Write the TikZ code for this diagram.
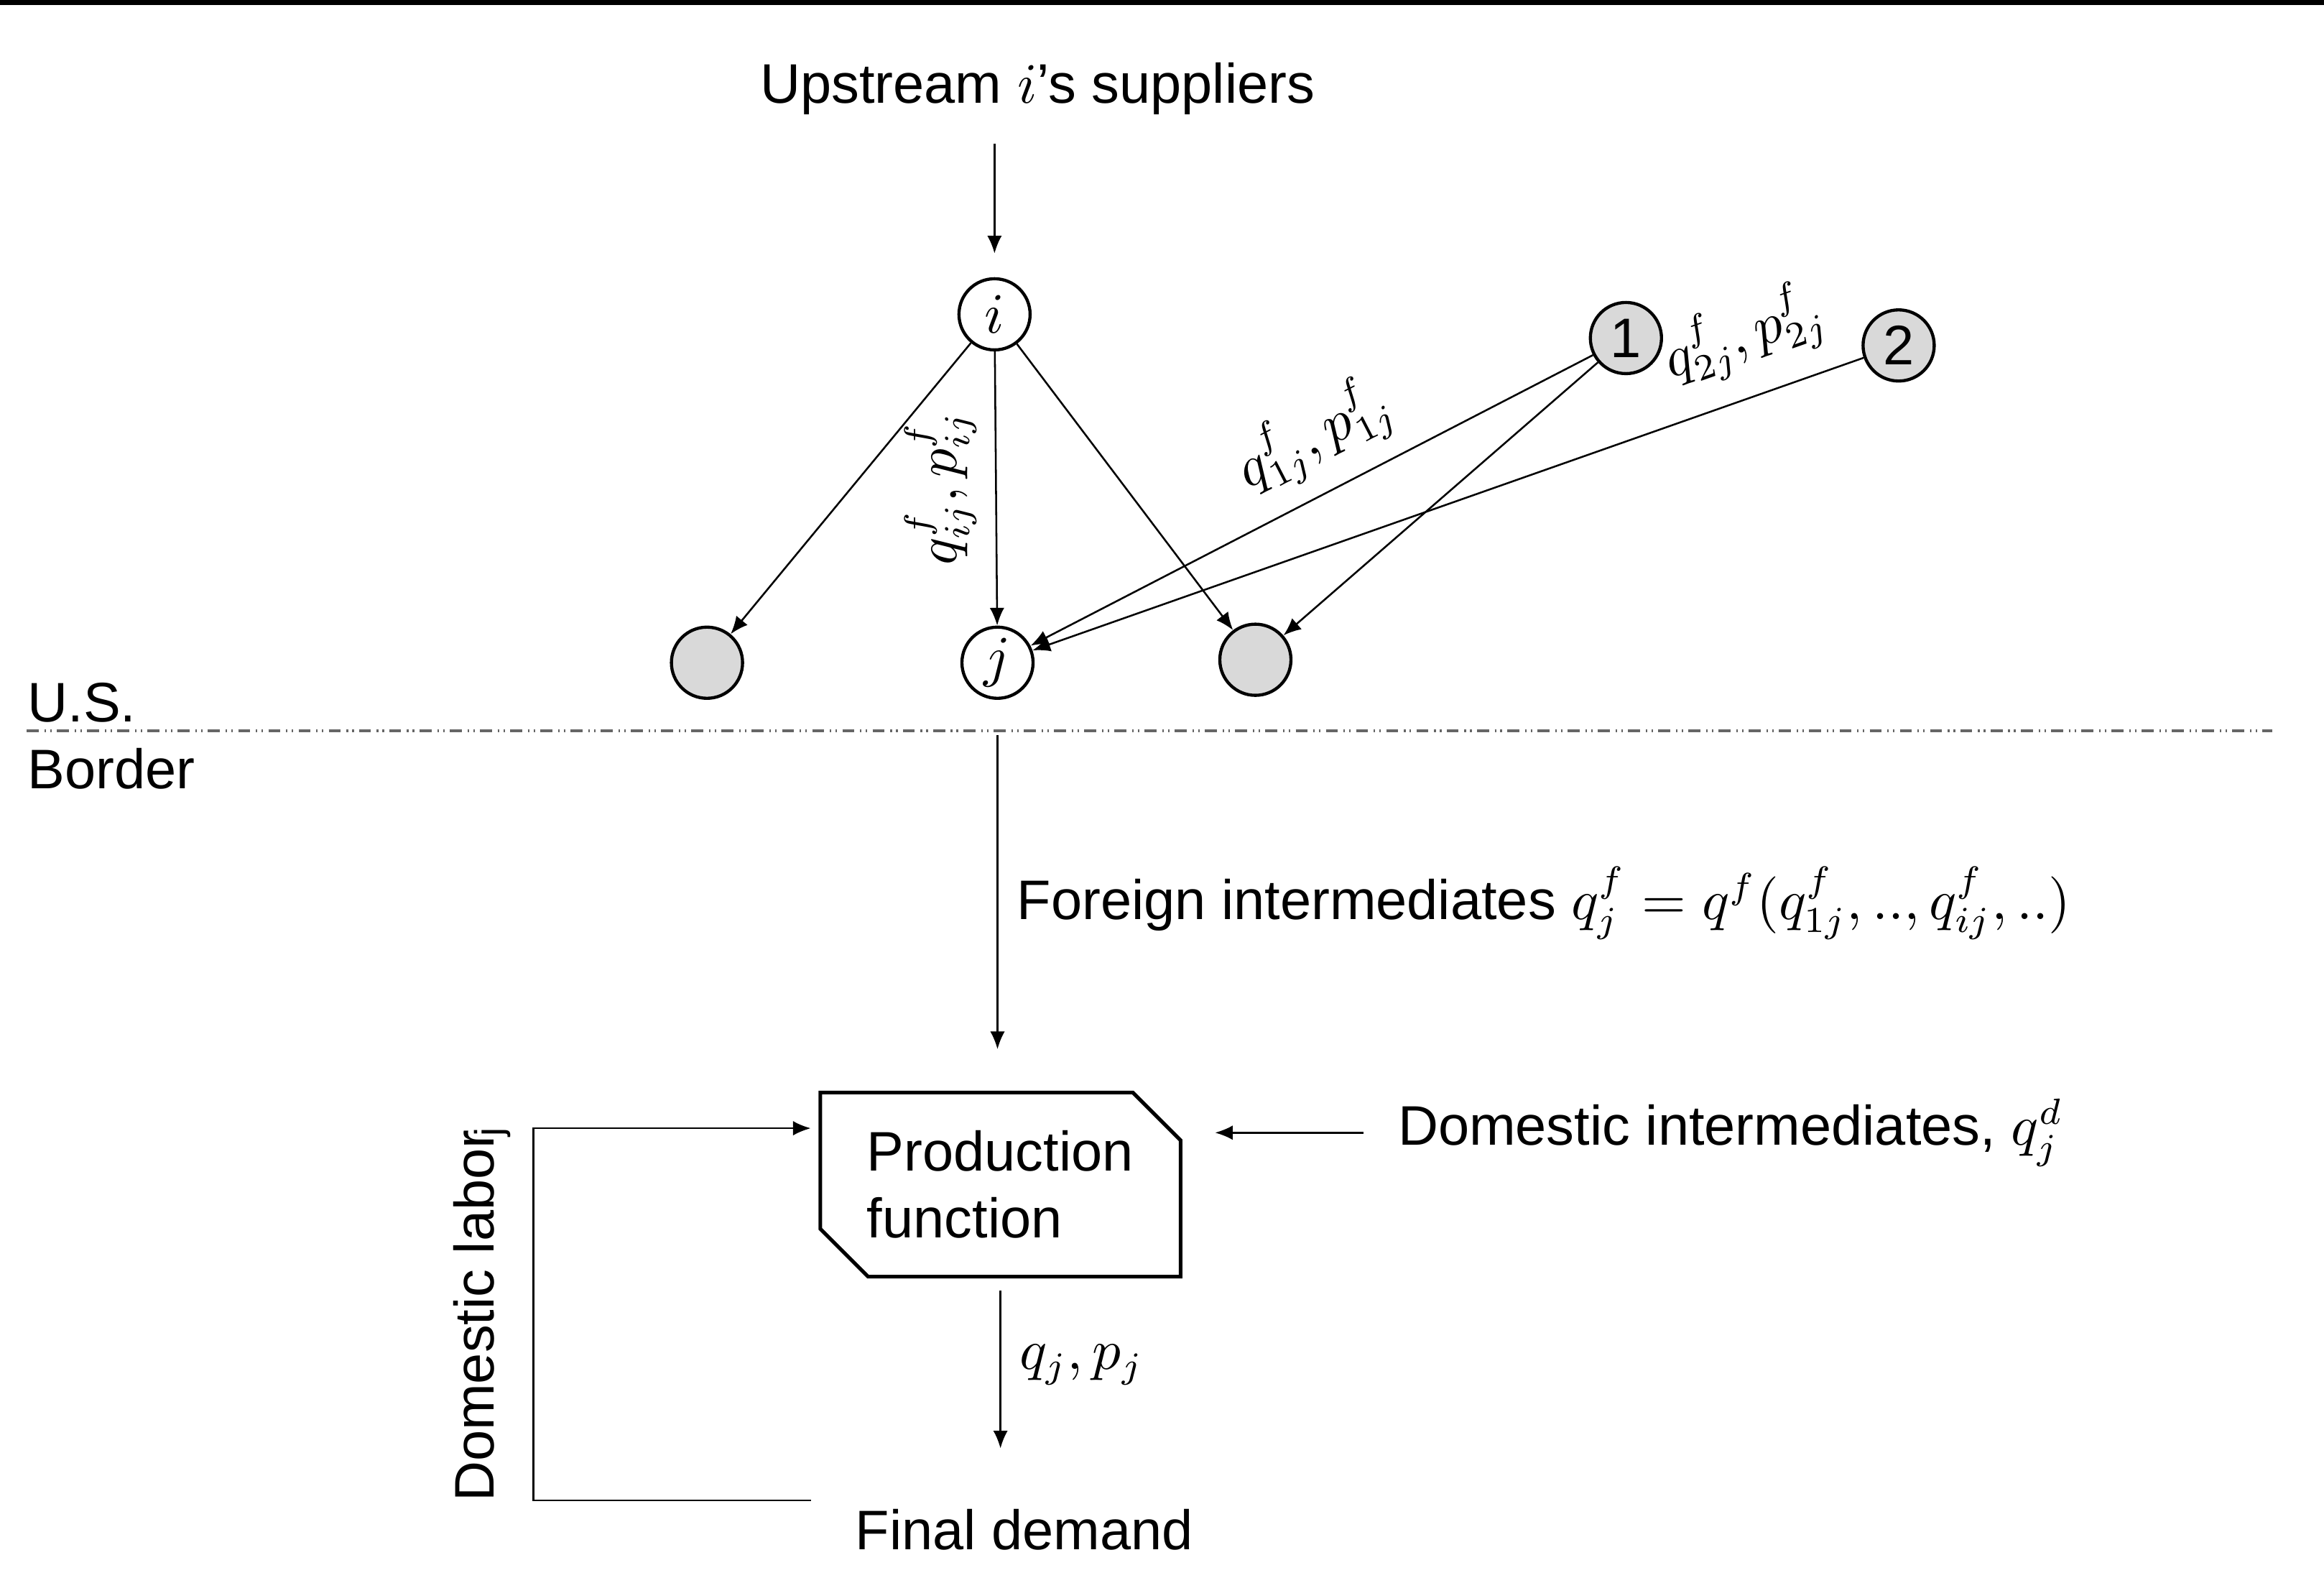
\documentclass[tikz,border=0pt]{standalone}
\usepackage{fontspec}
\setmainfont{Liberation Sans}
\usetikzlibrary{arrows.meta,shapes.misc}
\tikzset{>={Latex[length=3.4pt,width=2.8pt]}}
\tikzstyle{firm}=[circle,draw,line width=0.6pt,minimum size=0.48cm,inner sep=0pt]
\tikzstyle{foreign}=[firm,fill=black!15]
\tikzstyle{flow}=[->,line width=0.35pt]
\tikzstyle{production}=[chamfered rectangle,chamfered rectangle corners={north east,south west},
  chamfered rectangle xsep=0.19cm,draw,line width=0.7pt,minimum width=2.36cm,minimum height=1.22cm,
  text width=1.8cm,align=left]
\tikzstyle{border}=[black!60,line width=0.5pt,dash pattern=on 2.3pt off 1.1pt on 0.3pt off 0.8pt on 0.3pt off 1pt]

\begin{document}
\fontsize{10.7}{12.8}\selectfont
\begin{tikzpicture}[node distance=4em]
		\useasboundingbox (0,0) rectangle (15.68,-10.64);
		\fill (0,0) rectangle (15.68,-0.035);

		% firms abroad
		\node (sup) at (7.00,-0.60) {Upstream $i$'s suppliers};
		\node[firm] (i) at (6.71,-2.12) {$i$};
		\node[foreign] (one) at (10.97,-2.28) {1};
		\node[foreign] (two) at (12.81,-2.33) {2};
		\node[foreign] (left) at (4.77,-4.47) {};
		\node[firm] (j) at (6.73,-4.47) {$j$};
		\node[foreign] (right) at (8.47,-4.45) {};

		\draw[flow,shorten <=0.06cm,shorten >=0.16cm] (i |- sup.south) -- (i);
		\draw[flow] (i) -- (left);
		\draw[flow] (i) -- node[pos=0.5,rotate=90,anchor=south] {$q_{ij}^f, p_{ij}^f$} (j);
		\draw[flow] (i) -- (right);
		\draw[flow] (one) -- node[pos=0.45,sloped,above] {$q_{1j}^f, p_{1j}^f$} (j);
		\draw[flow] (one) -- (right);
		\draw[flow] (two) -- node[pos=0.12,sloped,above=1pt] {$q_{2j}^f, p_{2j}^f$} (j);

		% the border
		\draw[border] (0.18,-4.93) -- (15.33,-4.93);
		\node[anchor=base west] (us) at (0.055,-4.87) {U.S.};
		\node[anchor=base west] (bord) at (0.055,-5.32) {Border};

		% domestic side
		\node[production] (prod) at (6.75,-7.99) {Production\\function};
		\node[anchor=west] (dint) at (9.30,-7.64) {Domestic intermediates, $q_j^d$};
		\node (fd) at (6.91,-10.32) {Final demand};
		\node[rotate=90] (lab) at (3.25,-8.86) {Domestic labor\kern-0.12em\textsubscript{j}};

		\draw[flow,shorten <=0.24cm,shorten >=0.28cm] (j.south) -- node[pos=0.52,right] {Foreign intermediates $q_j^f = q^f(q_{1j}^f,.., q_{ij}^f,..)$} (j.south |- prod.north);
		\draw[flow,shorten <=0.1cm,shorten >=0.22cm] (dint.west) -- (prod.east |- dint.west);
		\draw[flow,shorten <=0.08cm,shorten >=0.28cm] (prod.south) -- node[pos=0.41,right] {$q_j, p_j$} (prod.south |- fd.north);

		\coordinate (labout) at (5.47,-10.12);
		\coordinate (labin) at (5.47,-7.61);
		\draw[flow] (labout) -- ++(-1.87,0) |- (labin);
	\end{tikzpicture}
\end{document}
